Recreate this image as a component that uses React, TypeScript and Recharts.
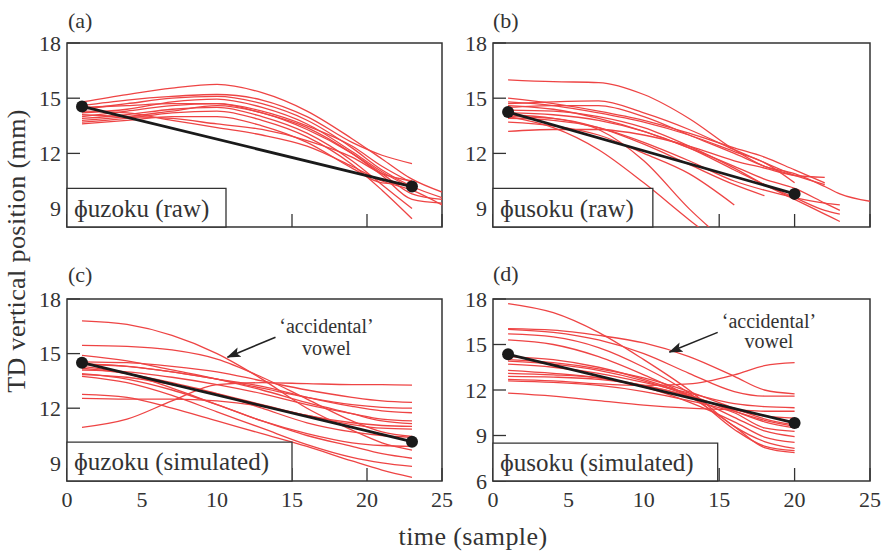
import React from "react";
import {
  LineChart,
  Line,
  XAxis,
  YAxis,
  ReferenceArea,
  ReferenceLine,
  ReferenceDot,
} from "recharts";

const SERIF = "'Liberation Serif', 'DejaVu Serif', serif";
const RED = "#ee4444";
const INK = "#333333";

const X_TICKS = [0, 5, 10, 15, 20, 25];
const Y_TICKS = [9, 12, 15, 18];
const Y_TICKS_D = [6, 9, 12, 15, 18];

// (a) ɸuzoku, raw tracings
const A_X = [1, 4, 7, 10, 13, 16, 19, 21, 23, 25];
const A_TRACKS = [
  [14.8, 15.2, 15.55, 15.75, 15.3, 14.3, 12.8, 11.7, 10.6, 9.9],
  [14.6, 14.9, 15.1, 15.2, 14.9, 14.0, 12.6, 11.9, 11.45],
  [14.4, 14.7, 15.0, 15.1, 14.7, 13.8, 12.3, 11.1, 10.2, 9.6],
  [14.2, 14.4, 14.8, 14.95, 14.5, 13.6, 12.1, 11.0, 10.1],
  [14.0, 14.3, 14.6, 14.7, 14.2, 13.4, 12.0, 10.8, 9.5, 9.3],
  [13.9, 14.1, 14.4, 14.5, 14.0, 13.1, 11.6, 10.3, 9.0],
  [13.7, 13.9, 14.2, 14.3, 13.8, 12.9, 11.4, 10.0, 8.45],
  [13.6, 13.8, 14.0, 14.0, 13.5, 12.6, 11.2, 10.4, 10.3],
  [14.1, 14.0, 13.9, 13.6, 13.3, 12.7, 11.8, 10.9, 10.5],
  [14.3, 14.2, 13.8, 13.4, 13.0, 12.4, 11.3, 10.5, 10.0, 9.2],
  [14.5, 14.6, 14.7, 14.7, 14.3, 13.5, 12.4, 11.3, 10.4],
  [13.8, 14.0, 14.3, 14.6, 14.2, 13.3, 12.0, 10.9, 9.8, 9.5],
];
const A_MEAN_X = [1, 23];
const A_MEAN = [14.55, 10.2];

// (b) ɸusoku, raw tracings
const B_X = [1, 4, 7, 10, 13, 16, 18, 20, 22, 23, 25];
const B_TRACKS = [
  [16.0, 15.9, 15.85, 15.2, 13.9, 12.2, 11.3, 10.9, 10.2, 9.8, 9.4],
  [15.0, 14.7, 14.3, 13.8, 13.1, 12.3, 11.8, 11.1, 10.4],
  [14.7, 14.8, 14.85, 14.2, 13.3, 12.2, 11.5, 10.8],
  [14.5, 14.6, 14.6, 14.0, 13.0, 12.0, 11.3, 10.8, 10.3],
  [14.35, 14.3, 14.0, 13.4, 12.4, 11.2, 10.3, 9.5, 8.7, 8.3],
  [14.2, 14.1, 13.8, 13.2, 12.3, 11.1, 10.3, 9.6, 8.9, 8.7],
  [14.0, 13.9, 13.4, 12.5, 11.4, 10.3, 9.7],
  [13.9, 13.8, 13.4, 12.6, 11.6, 10.5, 10.0, 9.6, 9.3, 9.2],
  [13.7, 13.5, 13.0, 12.0, 10.9, 9.2],
  [14.1, 13.9, 13.3, 11.6, 9.0, 6.8],
  [14.0, 13.4, 12.2, 10.4, 8.4, 6.5],
  [13.2, 13.3, 13.3, 13.0, 12.4, 11.6, 11.2, 10.8, 10.7],
  [14.6, 14.4, 13.9, 13.2, 12.3, 11.3, 10.6, 10.1, 9.3, 8.9],
  [14.8, 14.6, 14.2, 13.7, 13.0, 12.1, 11.5, 10.4],
];
const B_MEAN_X = [1, 20];
const B_MEAN = [14.25, 9.8];

// (c) ɸuzoku, simulated
const C_X = [1, 4, 7, 10, 13, 16, 19, 21, 23];
const C_TRACKS = [
  [16.8, 16.6, 16.0, 15.0, 13.6, 12.0, 10.8, 10.1, 9.7],
  [15.45, 15.4, 15.2, 14.7, 13.7, 12.5, 11.3, 10.7, 10.45],
  [14.9, 14.6, 14.1, 13.6, 13.0, 12.3, 11.7, 11.3, 11.15],
  [14.45, 14.3, 14.0, 13.6, 13.2, 12.6, 12.1, 11.85, 11.75],
  [14.3, 13.9, 13.1, 12.2, 11.3, 10.5, 9.9, 9.5, 9.25],
  [14.4, 14.3, 14.0, 13.6, 13.1, 12.6, 12.2, 12.05, 12.0],
  [13.85, 13.7, 13.3, 12.8, 12.2, 11.6, 11.2, 11.05, 11.0],
  [13.75, 13.4, 12.7, 11.8, 10.9, 10.0, 9.3, 9.0, 8.8],
  [14.1, 14.0, 13.7, 13.3, 12.8, 12.2, 11.7, 11.4, 11.3],
  [12.76, 12.6, 12.0, 11.3, 10.6, 9.9, 9.1, 8.6, 8.2],
  [12.54, 12.5, 12.5, 12.4, 12.1, 11.6, 11.1, 10.9, 10.85],
  [10.95, 11.4, 12.4, 13.3, 13.4, 13.35, 13.3, 13.3, 13.27],
  [14.55, 14.5, 14.3, 14.0, 13.5, 13.0, 12.6, 12.4, 12.32],
  [13.9, 13.6, 13.0, 12.2, 11.3, 10.6, 10.1, 9.95, 9.9],
  [14.2, 13.9, 13.4, 12.8, 12.0, 11.2, 10.7, 10.5, 10.4],
];
const C_MEAN_X = [1, 23];
const C_MEAN = [14.5, 10.16];

// (d) ɸusoku, simulated
const D_X = [1, 4, 7, 10, 13, 16, 18, 20];
const D_TRACKS = [
  [17.7, 17.1, 15.8, 14.0, 12.0, 9.6, 8.6, 8.15],
  [16.05, 15.95, 15.6, 15.1, 14.2, 12.9, 12.0, 11.75],
  [16.0, 15.8, 15.3, 14.4, 13.1, 11.9, 11.6, 11.6],
  [15.7, 15.5, 14.8, 13.5, 11.8, 9.4, 8.3, 8.0],
  [15.3, 15.0, 14.2, 13.0, 11.6, 9.6, 8.2, 7.87],
  [14.2, 14.0, 13.5, 12.7, 11.7, 10.6, 10.0, 9.6],
  [13.9, 13.7, 13.3, 12.6, 11.6, 10.2, 9.3, 8.93],
  [13.7, 13.5, 13.1, 12.5, 11.8, 11.1, 10.9, 10.83],
  [13.3, 13.1, 12.8, 12.2, 11.2, 9.9, 8.9, 8.55],
  [13.1, 13.0, 12.8, 12.3, 11.6, 10.7, 10.3, 10.15],
  [12.9, 12.85, 12.7, 12.3, 11.6, 10.6, 9.9, 9.5],
  [12.7, 12.6, 12.4, 12.3, 12.4, 13.0, 13.6, 13.8],
  [12.6, 12.5, 12.3, 11.9, 11.3, 10.5, 9.5, 9.27],
  [11.8, 11.6, 11.3, 11.0, 10.8, 10.7, 10.6, 10.6],
  [14.0, 13.8, 13.4, 12.8, 11.9, 10.8, 10.1, 9.7],
];
const D_MEAN_X = [1, 20];
const D_MEAN = [14.35, 9.83];

const toPoints = (xs: number[], ys: number[]) => ys.map((y, i) => ({ x: xs[i], y }));

type Note = { at: [number, number]; at2: [number, number]; from: [number, number]; to: [number, number] };

type PanelProps = {
  left: number;
  top: number;
  width: number;
  marginTop: number;
  marginRight: number;
  xAxisHeight: number;
  xs: number[];
  tracks: number[][];
  meanX: number[];
  mean: number[];
  yDomain: [number, number];
  yTicks: number[];
  showXLabels: boolean;
  label: string;
  box: [number, number];
  note?: Note;
};

function Panel(p: PanelProps) {
  const tickFont = { fill: INK, fontSize: 22, fontFamily: SERIF };
  const noteFont = { fontSize: 20, fontFamily: SERIF, fill: INK };
  return (
    <div style={{ position: "absolute", left: p.left, top: p.top }}>
      <LineChart
        width={p.width}
        height={260}
        margin={{ top: p.marginTop, right: p.marginRight, bottom: 0, left: 0 }}
      >
        <XAxis
          type="number"
          dataKey="x"
          domain={[0, 25]}
          ticks={X_TICKS}
          allowDataOverflow
          interval={0}
          height={p.xAxisHeight}
          axisLine={false}
          tickSize={-13}
          tickMargin={23}
          tick={tickFont}
          tickLine={{ stroke: INK, strokeWidth: 1.3 }}
          tickFormatter={p.showXLabels ? undefined : () => ""}
        />
        <YAxis
          type="number"
          domain={p.yDomain}
          ticks={p.yTicks}
          allowDataOverflow
          interval={0}
          width={67}
          axisLine={false}
          tickSize={-13}
          tickMargin={19}
          tick={tickFont}
          tickLine={{ stroke: INK, strokeWidth: 1.3 }}
        />
        <ReferenceArea
          x1={0}
          x2={25}
          y1={p.yDomain[0]}
          y2={p.yDomain[1]}
          fill="none"
          stroke={INK}
          strokeWidth={1.5}
          zIndex={-50}
        />
        {p.tracks.map((ys, i) => (
          <Line
            key={i}
            data={toPoints(p.xs, ys)}
            dataKey="y"
            type="monotone"
            stroke={RED}
            strokeWidth={1.3}
            dot={false}
            activeDot={false}
            isAnimationActive={false}
          />
        ))}
        <Line
          data={toPoints(p.meanX, p.mean)}
          dataKey="y"
          type="linear"
          stroke="#1a1a1a"
          strokeWidth={2.8}
          dot={{ r: 6, fill: "#1a1a1a", stroke: "none" }}
          activeDot={false}
          isAnimationActive={false}
        />
        {p.note ? (
          <ReferenceLine
            segment={[
              { x: p.note.from[0], y: p.note.from[1] },
              { x: p.note.to[0], y: p.note.to[1] },
            ]}
            stroke="#222"
            strokeWidth={1.6}
            markerEnd="url(#arrowhead)"
            zIndex={1600}
          />
        ) : null}
        {p.note ? (
          <ReferenceDot
            x={p.note.at[0]}
            y={p.note.at[1]}
            r={0}
            stroke="none"
            fill="none"
            label={{ value: "\u2018accidental\u2019", position: "center", ...noteFont }}
          />
        ) : null}
        {p.note ? (
          <ReferenceDot
            x={p.note.at2[0]}
            y={p.note.at2[1]}
            r={0}
            stroke="none"
            fill="none"
            label={{ value: "vowel", position: "center", ...noteFont }}
          />
        ) : null}
        <ReferenceArea
          x1={0}
          x2={p.box[0]}
          y1={p.yDomain[0]}
          y2={p.box[1]}
          fill="#ffffff"
          fillOpacity={1}
          stroke={INK}
          strokeWidth={1.3}
          zIndex={1500}
          label={{ value: p.label, position: "insideLeft", offset: 7, fontSize: 25, fontFamily: SERIF, fill: INK }}
        />
      </LineChart>
    </div>
  );
}

const textStyle: React.CSSProperties = {
  position: "absolute",
  fontFamily: SERIF,
  color: INK,
  whiteSpace: "nowrap",
  lineHeight: 1,
};

export default function App() {
  return (
    <div style={{ position: "absolute", left: 0, top: 0, width: 882, height: 552, background: "#fff", overflow: "hidden" }}>
      <svg width={0} height={0} style={{ position: "absolute" }}>
        <defs>
          <marker id="arrowhead" viewBox="0 0 14 12" refX="13" refY="6" markerWidth={14} markerHeight={12} markerUnits="userSpaceOnUse" orient="auto">
            <path d="M0,1 L14,6 L0,11 L3,6 z" fill="#222" />
          </marker>
        </defs>
      </svg>
      <Panel
        left={0}
        top={0}
        width={460}
        marginTop={43}
        marginRight={18}
        xAxisHeight={33}
        xs={A_X}
        tracks={A_TRACKS}
        meanX={A_MEAN_X}
        mean={A_MEAN}
        yDomain={[8, 18]}
        yTicks={Y_TICKS}
        showXLabels={false}
        label={"\u0278uzoku (raw)"}
        box={[10.6, 10.1]}
      />
      <Panel
        left={426}
        top={0}
        width={456}
        marginTop={43}
        marginRight={12}
        xAxisHeight={33}
        xs={B_X}
        tracks={B_TRACKS}
        meanX={B_MEAN_X}
        mean={B_MEAN}
        yDomain={[8, 18]}
        yTicks={Y_TICKS}
        showXLabels={false}
        label={"\u0278usoku (raw)"}
        box={[10.6, 10.1]}
      />
      <Panel
        left={0}
        top={260}
        width={460}
        marginTop={39}
        marginRight={18}
        xAxisHeight={39}
        xs={C_X}
        tracks={C_TRACKS}
        meanX={C_MEAN_X}
        mean={C_MEAN}
        yDomain={[8, 18]}
        yTicks={Y_TICKS}
        showXLabels
        label={"\u0278uzoku (simulated)"}
        box={[15, 10.14]}
        note={{ at: [17.3, 16.5], at2: [17.3, 15.3], from: [13.9, 15.9], to: [10.7, 14.8] }}
      />
      <Panel
        left={426}
        top={260}
        width={456}
        marginTop={39}
        marginRight={12}
        xAxisHeight={39}
        xs={D_X}
        tracks={D_TRACKS}
        meanX={D_MEAN_X}
        mean={D_MEAN}
        yDomain={[6, 18]}
        yTicks={Y_TICKS_D}
        showXLabels
        label={"\u0278usoku (simulated)"}
        box={[14.9, 8.5]}
        note={{ at: [18.3, 16.58], at2: [18.3, 15.22], from: [14.9, 15.8], to: [11.7, 14.5] }}
      />
      <div style={{ ...textStyle, left: 68, top: 10, fontSize: 22 }}>(a)</div>
      <div style={{ ...textStyle, left: 493, top: 10, fontSize: 22 }}>(b)</div>
      <div style={{ ...textStyle, left: 68, top: 264, fontSize: 22 }}>(c)</div>
      <div style={{ ...textStyle, left: 493, top: 263, fontSize: 22 }}>(d)</div>
      <div
        style={{
          ...textStyle,
          left: 17,
          top: 251,
          fontSize: 26,
          letterSpacing: 0.4,
          transform: "translate(-50%, -50%) rotate(-90deg)",
        }}
      >
        TD vertical position (mm)
      </div>
      <div style={{ ...textStyle, left: 473, top: 537, fontSize: 26, letterSpacing: 0.4, transform: "translate(-50%, -50%)" }}>
        time (sample)
      </div>
    </div>
  );
}
